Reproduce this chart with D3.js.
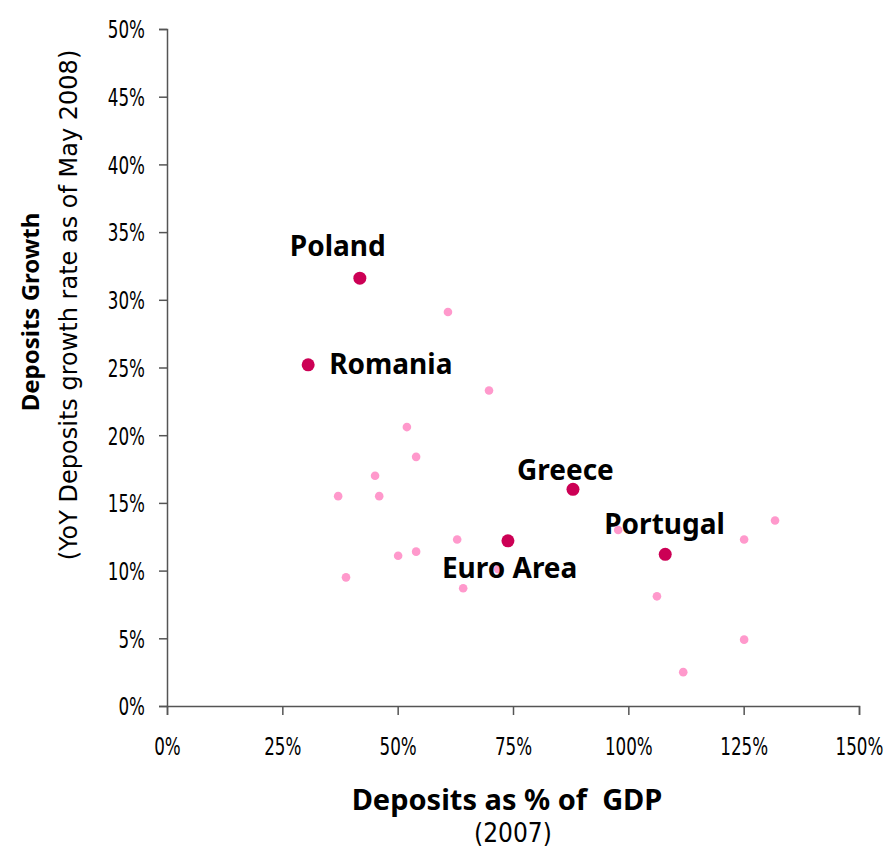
<!DOCTYPE html>
<html>
<head>
<meta charset="utf-8">
<script src="https://cdn.jsdelivr.net/npm/d3@7"></script>
<style>
  body { margin: 0; background: #fff; }
  svg { display: block; }
</style>
</head>
<body>
<svg id="chart"></svg>
<script>
// deposits as % of GDP (2007) vs yoy deposit growth (May 2008), in %
const highlightNames = ["Poland", "Romania", "Greece", "Euro Area", "Portugal"];
const highlightX = [41.8, 30.6, 88.0, 73.9, 108.0];
const highlightY = [31.6, 25.2, 16.0, 12.2, 11.2];

const otherX = [60.9, 69.8, 52.0, 54.0, 45.1, 37.1, 46.0, 62.9, 54.0, 50.1,
                38.8, 71.8, 64.2, 97.8, 125.1, 131.8, 106.2, 125.1, 111.9];
const otherY = [29.1, 23.3, 20.6, 18.4, 17.0, 15.5, 15.5, 12.3, 11.4, 11.1,
                9.5, 10.1, 8.7, 13.0, 12.3, 13.7, 8.1, 4.9, 2.5];

const xTicks = [0, 25, 50, 75, 100, 125, 150];
const yTicks = [0, 5, 10, 15, 20, 25, 30, 35, 40, 45, 50];

const width = 885, height = 864;
const plotLeft = 167, plotRight = 859, plotTop = 29, plotBottom = 706;

// where each country name sits relative to its dot
const labelOffset = {
  "Poland": [-70, -22],
  "Romania": [21, 9],
  "Greece": [-56, -9],
  "Euro Area": [-66, 37],
  "Portugal": [-61, -20]
};

const svg = d3.select("#chart").attr("width", width).attr("height", height);

const x = d3.scaleLinear().domain([0, 150]).range([plotLeft, plotRight]);
const y = d3.scaleLinear().domain([0, 50]).range([plotBottom, plotTop]);

// tick labels in the original are narrow, so squeeze them a bit
const tickFont = "'DejaVu Sans Condensed', sans-serif";
const tickSize = 24.5;
const squeeze = 0.76;

const yAxis = svg.append("g")
  .attr("transform", `translate(${plotLeft},0)`)
  .call(d3.axisLeft(y).tickValues(yTicks).tickSize(8).tickPadding(14)
    .tickFormat(d => d + "%"));
yAxis.select(".domain").attr("stroke", "#555").attr("stroke-width", 1.5);
yAxis.selectAll(".tick line").attr("stroke", "#555").attr("stroke-width", 1.5);
yAxis.selectAll(".tick text")
  .attr("font-family", tickFont).attr("font-size", tickSize).attr("fill", "#000")
  .attr("x", -22 / squeeze)
  .attr("dy", "0.36em")
  .attr("transform", `scale(${squeeze},1)`);

const xAxis = svg.append("g")
  .attr("transform", `translate(0,${plotBottom})`)
  .call(d3.axisBottom(x).tickValues(xTicks).tickSize(9).tickPadding(23)
    .tickFormat(d => d + "%"));
xAxis.select(".domain").attr("stroke", "#555").attr("stroke-width", 1.5);
xAxis.selectAll(".tick line").attr("stroke", "#555").attr("stroke-width", 1.5);
xAxis.selectAll(".tick text")
  .attr("font-family", tickFont).attr("font-size", tickSize).attr("fill", "#000")
  .attr("transform", `scale(${squeeze},1)`);

const others = otherX.map((v, i) => ({ x: v, y: otherY[i] }));
svg.append("g").selectAll("circle")
  .data(others)
  .enter().append("circle")
  .attr("cx", d => x(d.x))
  .attr("cy", d => y(d.y))
  .attr("r", 4.3)
  .attr("fill", "#ff99cc");

const highlights = highlightNames.map((n, i) => ({ name: n, x: highlightX[i], y: highlightY[i] }));
svg.append("g").selectAll("circle")
  .data(highlights)
  .enter().append("circle")
  .attr("cx", d => x(d.x))
  .attr("cy", d => y(d.y))
  .attr("r", 6.5)
  .attr("fill", "#cc0055");

svg.append("g").selectAll("text")
  .data(highlights)
  .enter().append("text")
  .attr("x", d => x(d.x) + labelOffset[d.name][0])
  .attr("y", d => y(d.y) + labelOffset[d.name][1])
  .attr("font-family", "'Noto Sans', sans-serif")
  .attr("font-weight", "bold")
  .attr("font-size", 28)
  .attr("fill", "#000")
  .text(d => d.name);

// axis titles
svg.append("text")
  .attr("x", 507).attr("y", 810)
  .attr("text-anchor", "middle")
  .attr("font-family", "'Noto Sans', sans-serif")
  .attr("font-weight", "bold").attr("font-size", 29)
  .style("white-space", "pre")
  .text("Deposits as % of  GDP");

svg.append("text")
  .attr("x", 513).attr("y", 842)
  .attr("text-anchor", "middle")
  .attr("font-family", "'DejaVu Sans Condensed', sans-serif")
  .attr("font-size", 26)
  .text("(2007)");

svg.append("text")
  .attr("transform", "translate(39,312) rotate(-90)")
  .attr("text-anchor", "middle")
  .attr("font-family", "'Noto Sans', sans-serif")
  .attr("font-weight", "bold").attr("font-size", 24)
  .text("Deposits Growth");

svg.append("text")
  .attr("transform", "translate(77,305) rotate(-90)")
  .attr("text-anchor", "middle")
  .attr("font-family", "'DejaVu Sans', sans-serif")
  .attr("font-size", 24)
  .text("(YoY Deposits growth rate as of May 2008)");
</script>
</body>
</html>
